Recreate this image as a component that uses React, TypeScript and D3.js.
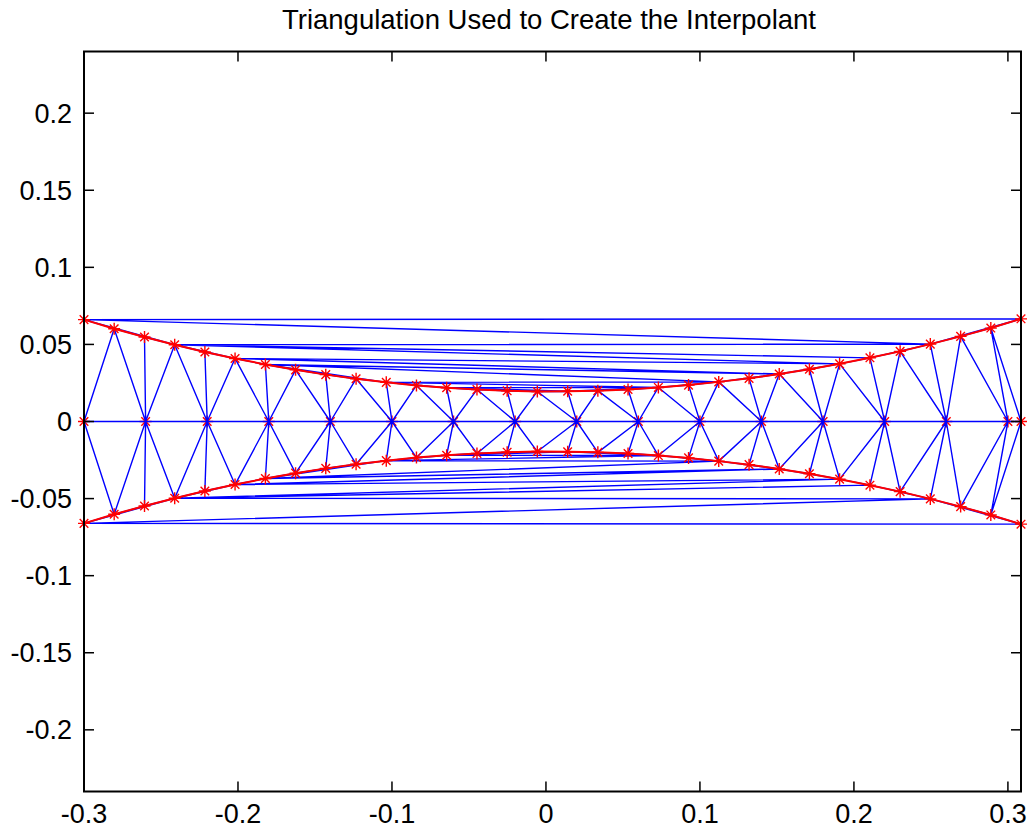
import React from 'react';
import * as d3 from 'd3';

// ---- data ----
const boundaryX = [
  -0.3, -0.2804, -0.2607, -0.2411, -0.2215, -0.2019, -0.1822, -0.1626,
  -0.143, -0.1233, -0.1037, -0.0841, -0.0645, -0.0448, -0.0252, -0.0056,
  0.0141, 0.0337, 0.0533, 0.073, 0.0926, 0.1122, 0.1319, 0.1515,
  0.1711, 0.1907, 0.2104, 0.23, 0.2496, 0.2693, 0.2889, 0.3085,
];
const boundaryTopY = [
  0.0661, 0.0602, 0.0548, 0.0498, 0.0451, 0.0409, 0.037, 0.0335,
  0.0304, 0.0277, 0.0254, 0.0234, 0.0219, 0.0207, 0.0199, 0.0195,
  0.0196, 0.0200, 0.0208, 0.0221, 0.0236, 0.0257, 0.028, 0.0308,
  0.0339, 0.0374, 0.0413, 0.0455, 0.0502, 0.0552, 0.0606, 0.0666,
];
const boundaryBottomY = boundaryTopY.map((v) => -v);
const centerX = [
  -0.3, -0.26, -0.22, -0.18, -0.14, -0.1, -0.06, -0.02,
  0.02, 0.06, 0.1, 0.14, 0.18, 0.22, 0.26, 0.3, 0.3085,
];
const centerY = centerX.map(() => 0);

const xTicks = [-0.3, -0.2, -0.1, 0, 0.1, 0.2, 0.3];
const yTicks = [-0.2, -0.15, -0.1, -0.05, 0, 0.05, 0.1, 0.15, 0.2];
const xDomain = [-0.3, 0.3085];
const yDomain = [-0.24, 0.24];
const title = 'Triangulation Used to Create the Interpolant';

const W = 1028;
const H = 832;
const M = { left: 84, right: 1021, top: 51.5, bottom: 791.5 };

export default function App() {
  const x = d3.scaleLinear().domain(xDomain).range([M.left, M.right]);
  const y = d3.scaleLinear().domain(yDomain).range([M.bottom, M.top]);

  const top = boundaryX.map((v, i) => [v, boundaryTopY[i]] as [number, number]);
  const bottom = boundaryX.map((v, i) => [v, boundaryBottomY[i]] as [number, number]);
  const center = centerX.map((v, i) => [v, centerY[i]] as [number, number]);
  const all = [...top, ...bottom, ...center];

  const delaunay = d3.Delaunay.from(all, (p) => p[0], (p) => p[1]);
  const tri = delaunay.triangles;
  const seen = new Set<string>();
  const p = d3.path();
  for (let t = 0; t < tri.length; t += 3) {
    for (let k = 0; k < 3; k++) {
      const a = tri[t + k];
      const b = tri[t + ((k + 1) % 3)];
      const key = a < b ? `${a}-${b}` : `${b}-${a}`;
      if (seen.has(key)) continue;
      seen.add(key);
      p.moveTo(x(all[a][0]), y(all[a][1]));
      p.lineTo(x(all[b][0]), y(all[b][1]));
    }
  }

  const line = d3
    .line<[number, number]>()
    .x((d) => x(d[0]))
    .y((d) => y(d[1]));

  const star = 'M-6,0L6,0M0,-6L0,6M-4.3,-4.3L4.3,4.3M-4.3,4.3L4.3,-4.3';
  const font = "'Liberation Sans', Arial, Helvetica, sans-serif";
  const tickLen = 10;

  return (
    <svg
      width={W}
      height={H}
      style={{ position: 'absolute', left: 0, top: 0, display: 'block', background: '#fff' }}
    >
      <rect x={0} y={0} width={W} height={H} fill="#fff" />
      <text
        x={549}
        y={29}
        textAnchor="middle"
        fontFamily={font}
        fontSize={27.5}
        fill="#000"
      >
        {title}
      </text>

      {/* center markers (under mesh) */}
      <g stroke="#ff0000" strokeWidth={1.4} fill="none">
        {center.map((d, i) => (
          <path key={i} d={star} transform={`translate(${x(d[0])},${y(d[1])})`} />
        ))}
      </g>

      {/* triangulation */}
      <path d={p.toString()} stroke="#0000ff" strokeWidth={1.4} fill="none" />

      {/* boundary */}
      <path d={line(top) || ''} stroke="#ff0000" strokeWidth={2} fill="none" />
      <path d={line(bottom) || ''} stroke="#ff0000" strokeWidth={2} fill="none" />
      <g stroke="#ff0000" strokeWidth={1.4} fill="none">
        {[...top, ...bottom].map((d, i) => (
          <path key={i} d={star} transform={`translate(${x(d[0])},${y(d[1])})`} />
        ))}
      </g>

      {/* axes box */}
      <rect
        x={M.left}
        y={M.top}
        width={M.right - M.left}
        height={M.bottom - M.top}
        fill="none"
        stroke="#000"
        strokeWidth={2}
      />
      <g stroke="#000" strokeWidth={1.5}>
        {xTicks.map((t) => (
          <g key={'x' + t}>
            <line x1={x(t)} x2={x(t)} y1={M.bottom} y2={M.bottom - tickLen} />
            <line x1={x(t)} x2={x(t)} y1={M.top} y2={M.top + tickLen} />
          </g>
        ))}
        {yTicks.map((t) => (
          <g key={'y' + t}>
            <line x1={M.left} x2={M.left + tickLen} y1={y(t)} y2={y(t)} />
            <line x1={M.right} x2={M.right - tickLen} y1={y(t)} y2={y(t)} />
          </g>
        ))}
      </g>
      <g fontFamily={font} fontSize={27} fill="#000">
        {xTicks.map((t) => (
          <text key={'xl' + t} x={x(t)} y={823} textAnchor="middle">
            {String(+t.toFixed(2))}
          </text>
        ))}
        {yTicks.map((t) => (
          <text key={'yl' + t} x={72} y={y(t)} dy="0.35em" textAnchor="end">
            {String(+t.toFixed(2))}
          </text>
        ))}
      </g>
    </svg>
  );
}
